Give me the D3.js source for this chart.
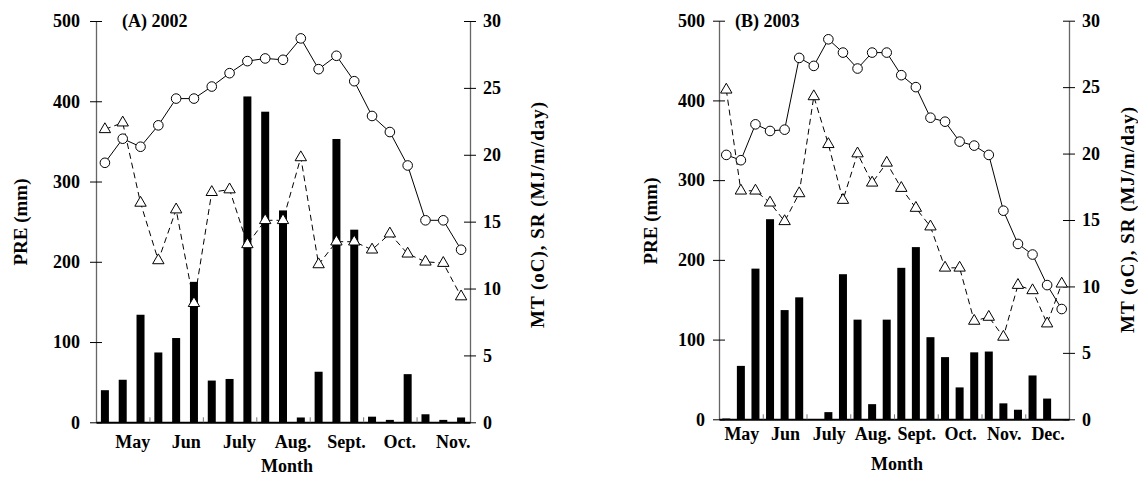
<!DOCTYPE html>
<html>
<head>
<meta charset="utf-8">
<script src="https://cdn.jsdelivr.net/npm/d3@7"></script>
<style>
  body { margin: 0; background: #fff; }
</style>
</head>
<body>
<svg width="1138" height="477"></svg>
<script>
    // (A) 2002, ten-day periods
    const months2002 = ['May', 'Jun', 'July', 'Aug.', 'Sept.', 'Oct.', 'Nov.'];
    const pre2002 = [40, 53, 134, 87, 105, 175, 52, 54, 406, 387, 264, 6, 63, 353, 240, 7, 3, 60, 10, 3, 6];
    const mt2002 = [19.4, 21.2, 20.6, 22.2, 24.2, 24.2, 25.1, 26.1, 27.0, 27.2, 27.1, 28.7, 26.4, 27.4, 25.5, 22.9, 21.7, 19.2, 15.1, 15.1, 12.9];
    const sr2002 = [21.9, 22.4, 16.4, 12.1, 15.9, 8.9, 17.2, 17.4, 13.3, 15.1, 15.1, 19.8, 11.8, 13.5, 13.5, 12.9, 14.1, 12.6, 12.0, 11.9, 9.4];

    // (B) 2003
    const months2003 = ['May', 'Jun', 'July', 'Aug.', 'Sept.', 'Oct.', 'Nov.', 'Dec.'];
    const pre2003 = [1, 67, 189, 251, 137, 153, 0, 9, 182, 125, 19, 125, 190, 216, 103, 78, 40, 84, 85, 20, 12, 55, 26, 0];
    const mt2003 = [19.9, 19.5, 22.2, 21.7, 21.8, 27.2, 26.6, 28.6, 27.6, 26.4, 27.6, 27.6, 25.9, 25.0, 22.7, 22.4, 20.9, 20.6, 19.9, 15.7, 13.2, 12.4, 10.1, 8.3];
    const sr2003 = [24.8, 17.2, 17.2, 16.3, 14.9, 17.0, 24.3, 20.7, 16.5, 20.0, 17.8, 19.3, 17.4, 15.9, 14.5, 11.4, 11.4, 7.4, 7.7, 6.2, 10.1, 9.7, 7.2, 10.2];

    // tick labels
    const preTicks = [0, 100, 200, 300, 400, 500];
    const tempTicks = [0, 5, 10, 15, 20, 25, 30];

    const FONT = "'Liberation Serif', 'Times New Roman', Times, serif";
    const svg = d3.select('svg');

    function label(sel, size) {
      return sel.attr('font-family', FONT).attr('font-weight', 'bold').attr('font-size', size).attr('fill', '#000');
    }

    function drawPanel(p) {
      const n = p.pre.length;
      const g = svg.append('g');

      // scales
      const x = d3.scaleBand().domain(d3.range(n)).range([p.x0, p.x1]);
      const xm = d3.scaleBand().domain(p.months).range([p.x0, p.x1]);
      const xl = d3.scaleLinear().domain([0, n]).range([p.x0, p.x1]);
      const yL = d3.scaleLinear().domain([0, 500]).range([p.y0, p.yTop]);
      const yR = d3.scaleLinear().domain([0, 30]).range([p.y0, p.yTop]);
      const cx = function(i) { return x(i) + x.bandwidth() / 2; };

      // precipitation bars
      g.append('g').selectAll('rect').data(p.pre).enter().append('rect')
        .attr('x', function(d, i) { return cx(i) - 4; })
        .attr('y', function(d) { return yL(d); })
        .attr('width', 8)
        .attr('height', function(d) { return yL(0) - yL(d); })
        .attr('fill', '#000');

      // left axis, ticks crossing the line
      const axL = d3.axisLeft(yL).tickValues(preTicks).tickSize(6).tickSizeOuter(0).tickPadding(p.padL);
      const gL = g.append('g').attr('transform', 'translate(' + p.x0 + ',0)').call(axL);
      // right axis
      const axR = d3.axisRight(yR).tickValues(tempTicks).tickSize(6).tickSizeOuter(0).tickPadding(7);
      const gR = g.append('g').attr('transform', 'translate(' + p.x1 + ',0)').call(axR);
      [gL, gR].forEach(function(ga) {
        ga.attr('font-family', null).attr('font-size', null);
        label(ga.selectAll('.tick text'), 18);
        ga.select('.domain').attr('stroke', '#666').attr('stroke-width', 1.3);
        ga.selectAll('.tick line').attr('x1', function() { return -d3.select(this).attr('x2'); }).attr('stroke', '#000');
      });

      // bottom line with month boundary ticks
      const axB = d3.axisBottom(xl).tickValues(d3.range(3, n, 3)).tickSize(-5).tickSizeOuter(0).tickFormat('');
      const gB = g.append('g').attr('transform', 'translate(0,' + p.y0 + ')').call(axB);
      gB.select('.domain').attr('stroke', '#000').attr('stroke-width', 2);
      gB.selectAll('.tick line').attr('stroke', '#777');

      // month labels
      label(g.append('g').selectAll('text').data(p.months).enter().append('text'), 18)
        .attr('x', function(d) { return xm(d) + xm.bandwidth() / 2 + p.labelOff; })
        .attr('y', p.monthY)
        .attr('text-anchor', 'middle')
        .text(function(d) { return d; });

      // lines
      const line = d3.line()
        .x(function(d, i) { return cx(i); })
        .y(function(d) { return yR(d); });
      g.append('path').datum(p.mt).attr('d', line)
        .attr('fill', 'none').attr('stroke', '#000').attr('stroke-width', 1);
      g.append('path').datum(p.sr).attr('d', line)
        .attr('fill', 'none').attr('stroke', '#000').attr('stroke-width', 1).attr('stroke-dasharray', '6,4');

      // markers
      g.append('g').selectAll('circle').data(p.mt).enter().append('circle')
        .attr('cx', function(d, i) { return cx(i); })
        .attr('cy', function(d) { return yR(d); })
        .attr('r', 4.8)
        .attr('fill', '#fff').attr('stroke', '#000').attr('stroke-width', 1);
      const tri = d3.symbol().type(d3.symbolTriangle).size(56);
      g.append('g').selectAll('path').data(p.sr).enter().append('path')
        .attr('d', tri)
        .attr('transform', function(d, i) { return 'translate(' + cx(i) + ',' + yR(d) + ')'; })
        .attr('fill', '#fff').attr('stroke', '#000').attr('stroke-width', 1);

      // titles
      label(g.append('text'), 18).attr('x', p.titleX).attr('y', 27).text(p.title);
      label(g.append('text'), 18).attr('x', p.monthX).attr('y', p.monthTitleY)
        .attr('text-anchor', 'middle').text('Month');
      label(g.append('text'), 19)
        .attr('transform', 'translate(' + p.preTitleX + ',' + p.preTitleY + ') rotate(-90)')
        .attr('text-anchor', 'middle').attr('dy', '0.35em').text('PRE (mm)');
      label(g.append('text'), 19)
        .attr('transform', 'translate(' + p.srTitleX + ',' + p.srTitleY + ') rotate(-90)')
        .attr('text-anchor', 'middle').attr('dy', '0.35em')
        .attr('textLength', 226).attr('lengthAdjust', 'spacing')
        .text('MT (oC), SR (MJ/m/day)');
    }

    drawPanel({
      title: '(A) 2002', months: months2002, pre: pre2002, mt: mt2002, sr: sr2002,
      x0: 96, x1: 470, y0: 422.3, yTop: 21, padL: 10, labelOff: 10,
      titleX: 122, monthY: 448, monthX: 287, monthTitleY: 472,
      preTitleX: 20, preTitleY: 222, srTitleX: 537, srTitleY: 215
    });
    drawPanel({
      title: '(B) 2003', months: months2003, pre: pre2003, mt: mt2003, sr: sr2003,
      x0: 719, x1: 1069, y0: 419.3, yTop: 20.7, padL: 8, labelOff: 1,
      titleX: 735, monthY: 440, monthX: 897, monthTitleY: 470,
      preTitleX: 650, preTitleY: 221, srTitleX: 1127, srTitleY: 220
    });
</script>
</body>
</html>
